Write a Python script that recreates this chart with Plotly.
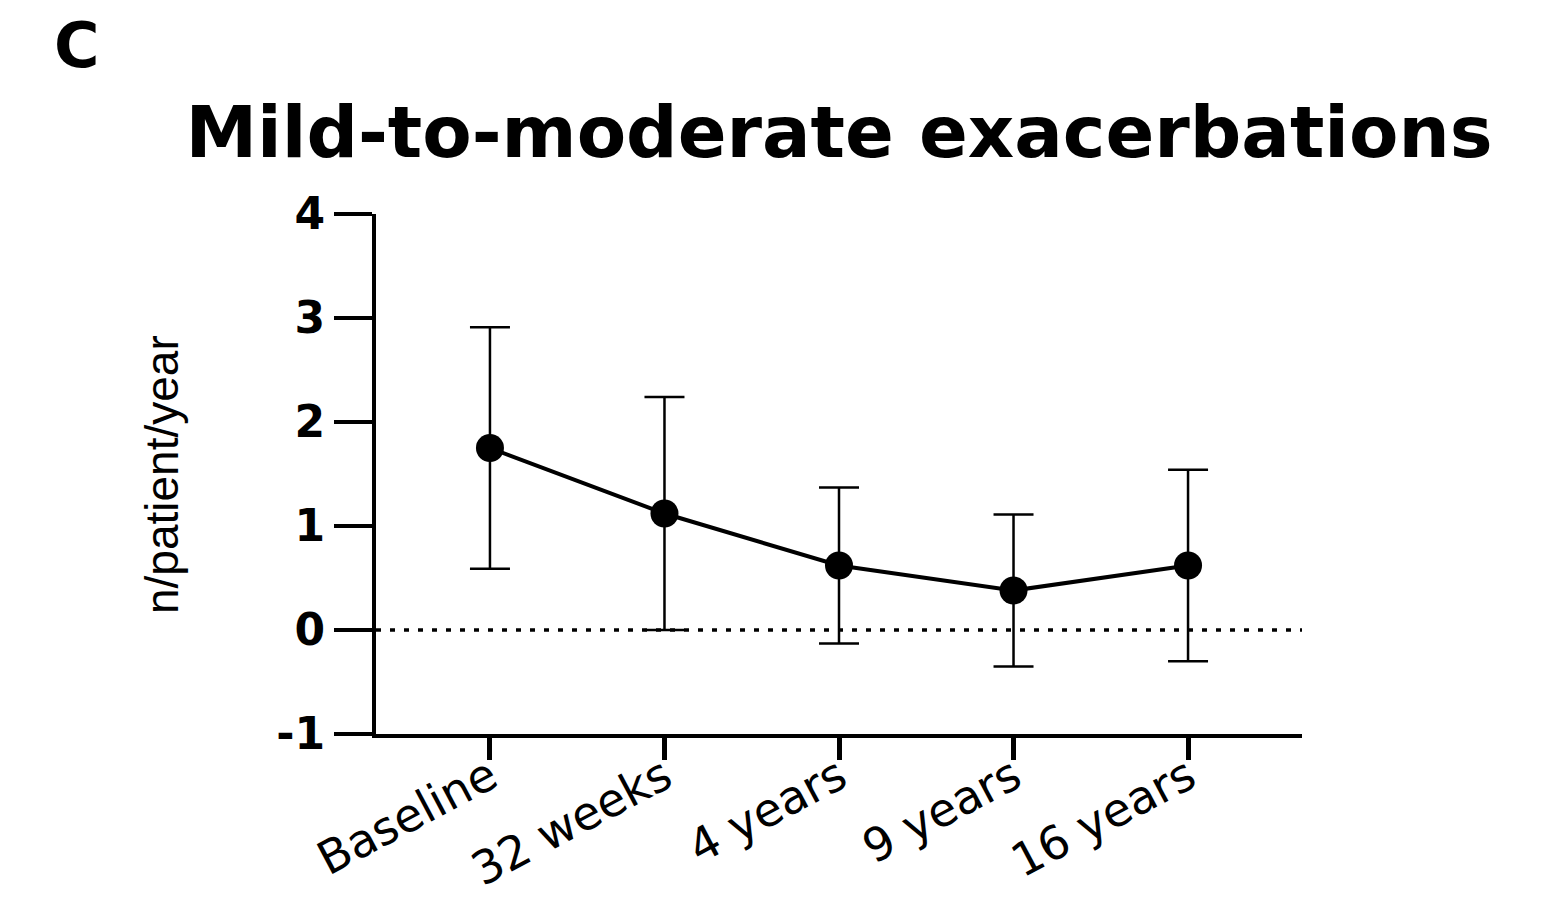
import plotly.graph_objects as go

categories = ["Baseline", "32 weeks", "4 years", "9 years", "16 years"]
means = [1.75, 1.12, 0.62, 0.38, 0.62]
sds = [1.16, 1.12, 0.75, 0.73, 0.92]
y_ticks = [-1, 0, 1, 2, 3, 4]

x_idx = list(range(len(categories)))

# page has an 8px body margin; work in figure coords
OFF = 8
W, H = 1551 - OFF, 905 - OFF
L, R, T, B = 376 - OFF, 1302 - OFF, 214 - OFF, 734 - OFF
PW, PH = R - L, B - T


def px(xp):
    return (xp - OFF - L) / PW


def py(yp):
    return (B - (yp - OFF)) / PH


fig = go.Figure()
fig.add_trace(go.Scatter(
    x=x_idx, y=means,
    mode="lines+markers",
    line=dict(color="black", width=4),
    marker=dict(color="black", size=28, symbol="circle"),
    error_y=dict(type="data", array=sds, visible=True, color="black",
                 thickness=2.5, width=20),
    showlegend=False,
))

fig.add_hline(y=0, line=dict(color="black", width=3.5, dash="5px,9px"))

fig.update_layout(
    width=W, height=H,
    paper_bgcolor="white", plot_bgcolor="white",
    margin=dict(l=L, r=W - R, t=T, b=H - B),
    title=dict(text="<b>Mild-to-moderate exacerbations</b>",
               x=(839 - OFF) / W, xanchor="center",
               y=1 - (132 - OFF) / H, yanchor="middle",
               font=dict(family="DejaVu Sans", size=72, color="black")),
    xaxis=dict(
        range=[-0.653, 4.653],
        tickmode="array", tickvals=x_idx, ticktext=categories,
        tickangle=-28,
        tickfont=dict(family="DejaVu Sans", size=46, color="black"),
        showline=True, linecolor="black", linewidth=4,
        ticks="outside", ticklen=22, tickwidth=5, tickcolor="black",
        ticklabelstandoff=-28,
        showgrid=False, zeroline=False, automargin=False,
    ),
    yaxis=dict(
        range=[-1, 4],
        tickmode="array", tickvals=y_ticks,
        ticktext=[f"<b>{v}</b>" for v in y_ticks],
        tickfont=dict(family="DejaVu Sans", size=44, color="black"),
        showline=True, linecolor="black", linewidth=4,
        ticks="outside", ticklen=38, tickwidth=3.5, tickcolor="black",
        showgrid=False, zeroline=False, automargin=False,
    ),
    annotations=[
        dict(text="<b>C</b>", xref="paper", yref="paper",
             x=px(52), y=py(45),
             xanchor="left", yanchor="middle", showarrow=False,
             font=dict(family="DejaVu Sans", size=62, color="black")),
        dict(text="n/patient/year", xref="paper", yref="paper",
             x=px(162), y=py(475),
             xanchor="center", yanchor="middle", textangle=-90,
             showarrow=False,
             font=dict(family="Liberation Sans", size=46, color="black")),
    ],
)

fig.write_html("out.html")
